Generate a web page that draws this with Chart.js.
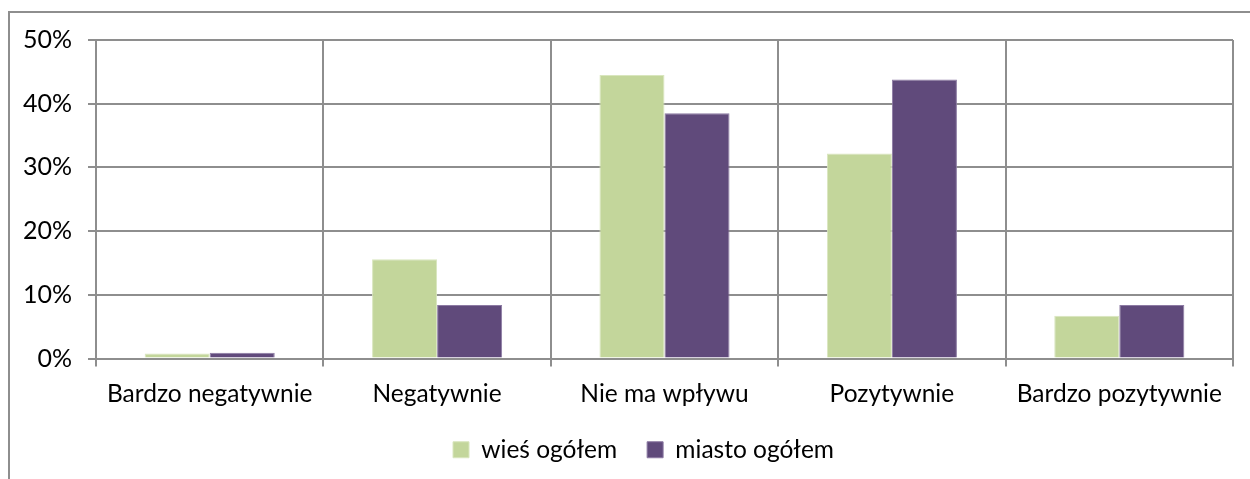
<!DOCTYPE html>
<html>
<head>
<meta charset="utf-8">
<script src="https://cdn.jsdelivr.net/npm/chart.js@4.4.1/dist/chart.umd.min.js"></script>
<style>
    html, body { margin: 0; padding: 0; background: #fff; overflow: hidden; }
    #frame {
        position: absolute;
        left: 8px; top: 11px; width: 1260px; height: 480px;
        border-top: 2px solid #8e8e8e;
        border-left: 2px solid #8e8e8e;
        box-sizing: border-box;
    }
    #wrap { position: absolute; left: 0; top: 0; width: 1250px; height: 479px; }
</style>
</head>
<body>
<div id="frame"></div>
<div id="wrap"><canvas id="chart"></canvas></div>
<script>
// Data
const categories = ['Bardzo negatywnie', 'Negatywnie', 'Nie ma wpływu', 'Pozytywnie', 'Bardzo pozytywnie'];
const wiesValues = [0.8, 15.6, 44.5, 32.2, 6.7];
const miastoValues = [0.9, 8.4, 38.5, 43.8, 8.4];
const seriesNames = ['wieś ogółem', 'miasto ogółem'];
const yTicks = [0, 10, 20, 30, 40, 50];

const fontFamily = 'Lato, "Open Sans", sans-serif';
const gridColor = '#8e8e8e';

// the legend in the original sits a little right of the canvas centre
const legendShift = {
    id: 'legendShift',
    afterLayout(chart) {
        const lg = chart.legend;
        if (!lg) return;
        lg.left += 27;
        lg.right += 27;
    }
};

const ctx = document.getElementById('chart');
new Chart(ctx, {
    type: 'bar',
    data: {
        labels: categories,
        datasets: [
            {
                label: seriesNames[0],
                data: wiesValues,
                backgroundColor: '#c3d69b',
                borderColor: '#d9e6be',
                borderWidth: 1,
                categoryPercentage: 0.572,
                barPercentage: 1
            },
            {
                label: seriesNames[1],
                data: miastoValues,
                backgroundColor: '#604a7b',
                borderColor: '#8c7aa3',
                borderWidth: 1,
                categoryPercentage: 0.572,
                barPercentage: 1
            }
        ]
    },
    plugins: [legendShift],
    options: {
        responsive: true,
        maintainAspectRatio: false,
        animation: false,
        layout: {
            padding: { top: 40, right: 17, bottom: 7, left: 0 }
        },
        plugins: {
            legend: {
                position: 'bottom',
                labels: {
                    boxWidth: 16,
                    boxHeight: 16,
                    padding: 30,
                    color: '#000',
                    font: { family: fontFamily, size: 24.5 }
                }
            },
            tooltip: { enabled: false }
        },
        scales: {
            x: {
                grid: {
                    offset: true,
                    color: gridColor,
                    lineWidth: 2,
                    tickLength: 8
                },
                border: { color: gridColor, width: 2 },
                ticks: {
                    color: '#000',
                    padding: 13,
                    maxRotation: 0,
                    font: { family: fontFamily, size: 24.5 }
                },
                afterFit: (scale) => { scale.height = 49; }
            },
            y: {
                min: 0,
                max: 50,
                afterBuildTicks: (scale) => {
                    scale.ticks = yTicks.map(v => ({ value: v }));
                },
                grid: {
                    color: gridColor,
                    lineWidth: 2,
                    tickLength: 8
                },
                border: { color: gridColor, width: 2 },
                ticks: {
                    color: '#000',
                    padding: 16,
                    font: { family: fontFamily, size: 25 },
                    callback: (value) => value + '%'
                },
                afterFit: (scale) => { scale.width = 96; }
            }
        }
    }
});
</script>
</body>
</html>
